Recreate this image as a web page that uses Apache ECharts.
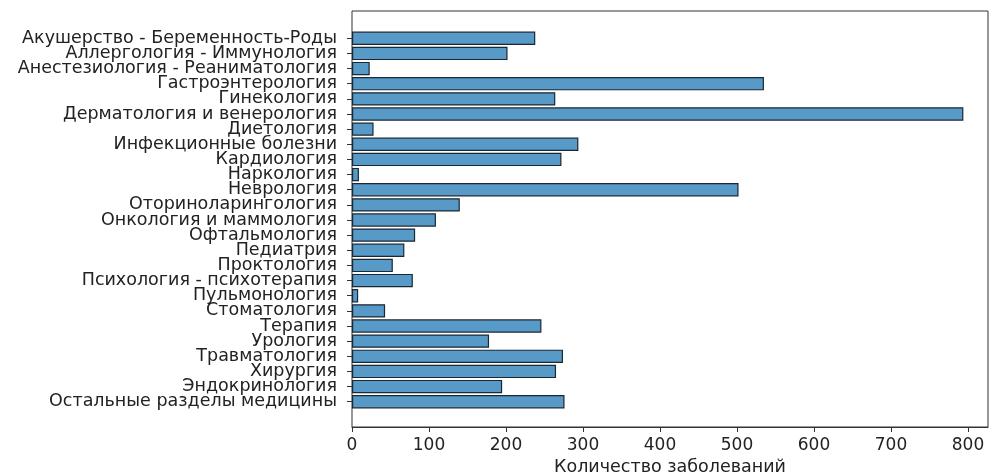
<!DOCTYPE html>
<html><head><meta charset="utf-8">
<script src="https://cdn.jsdelivr.net/npm/echarts@6/dist/echarts.min.js"></script>
<style>html,body{margin:0;padding:0;background:#fff}#c{width:990px;height:475px}</style>
</head><body><div id="c"></div>
<script>
const categories = [
  "Акушерство - Беременность-Роды",
  "Аллергология - Иммунология",
  "Анестезиология - Реаниматология",
  "Гастроэнтерология",
  "Гинекология",
  "Дерматология и венерология",
  "Диетология",
  "Инфекционные болезни",
  "Кардиология",
  "Наркология",
  "Неврология",
  "Оториноларингология",
  "Онкология и маммология",
  "Офтальмология",
  "Педиатрия",
  "Проктология",
  "Психология - психотерапия",
  "Пульмонология",
  "Стоматология",
  "Терапия",
  "Урология",
  "Травматология",
  "Хирургия",
  "Эндокринология",
  "Остальные разделы медицины"
];
const counts = [238, 202, 23, 535, 264, 794, 28, 294, 272, 9, 502, 140, 109, 82, 68, 53, 79, 8, 43, 246, 178, 274, 265, 195, 276];
const xTicks = [0, 100, 200, 300, 400, 500, 600, 700, 800];
const xAxisTitle = "Количество заболеваний";

const FONT = "DejaVu Sans";
const XMAX = 826;
const chart = echarts.init(document.getElementById('c'), null, {renderer: 'canvas'});
chart.setOption({
  animation: false,
  backgroundColor: '#ffffff',
  grid: [
    {left: 352, right: 2, top: 11, bottom: 48, show: true, borderColor: '#333', borderWidth: 1,
     backgroundColor: 'transparent', containLabel: false, outerBoundsMode: 'none'},
    {left: 352, right: 2, top: 30.7, bottom: 65.7, containLabel: false, outerBoundsMode: 'none'}
  ],
  xAxis: [
    {gridIndex: 0, type: 'value', min: 0, max: XMAX, interval: 100,
     axisLine: {show: true, lineStyle: {color: '#333', width: 1}},
     axisTick: {show: true, inside: false, length: 5, lineStyle: {color: '#333'}},
     splitLine: {show: false},
     axisLabel: {show: true, showMaxLabel: false, color: '#222', fontFamily: FONT, fontSize: 17, margin: 10,
       formatter: v => xTicks.includes(v) ? String(v) : ''},
     name: xAxisTitle, nameLocation: 'middle', nameGap: 30,
     nameTextStyle: {color: '#222', fontFamily: FONT, fontSize: 17.5}},
    {gridIndex: 1, type: 'value', min: 0, max: XMAX, show: false, splitLine: {show: false}}
  ],
  yAxis: [
    {gridIndex: 0, type: 'value', show: false, splitLine: {show: false}},
    {gridIndex: 1, type: 'category', data: categories, inverse: true,
     axisLine: {show: false},
     axisTick: {show: true, inside: false, length: 5, alignWithLabel: true, lineStyle: {color: '#333'}},
     axisLabel: {color: '#222', fontFamily: FONT, fontSize: 17.5, margin: 15, interval: 0}}
  ],
  series: [{
    type: 'bar', xAxisIndex: 1, yAxisIndex: 1,
    data: counts,
    barCategoryGap: '12%',
    itemStyle: {color: '#5799c7', borderColor: '#1b2733', borderWidth: 1.2}
  }]
});
</script></body></html>
